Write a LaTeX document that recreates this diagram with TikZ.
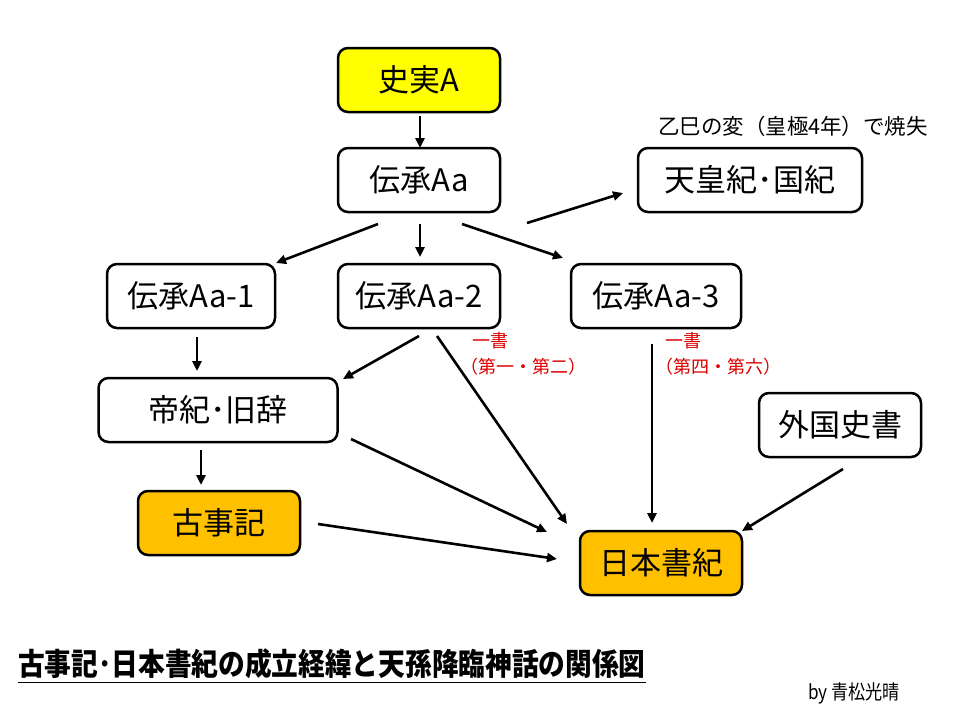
\documentclass[tikz,border=0pt]{standalone}
\usepackage{fontspec}
\setmainfont{Noto Sans CJK JP}
\usetikzlibrary{arrows.meta}
\definecolor{boxyellow}{RGB}{255,255,0}
\definecolor{boxorange}{RGB}{255,192,0}
\definecolor{notered}{RGB}{220,0,0}
\begin{document}
\begin{tikzpicture}[x=1pt,y=-1pt,
  box/.style={draw=black,line width=2.5pt,rounded corners=10pt,minimum height=64pt,inner sep=0pt,font=\fontsize{31}{34}\selectfont},
  arr/.style={line width=2.6pt,-{Triangle[length=10pt,width=9pt]}},
  note/.style={text=notered,font=\fontsize{18}{20}\selectfont,inner sep=0pt,anchor=west}]
\useasboundingbox (0,0) rectangle (960,720);
% boxes
\node[box,fill=boxyellow,minimum width=162pt] (A) at (419,80) {史実A};
\node[box,fill=white,minimum width=162pt] (Aa) at (419,180) {伝承Aa};
\node[box,fill=white,minimum width=224pt] (TK) at (750,180) {天皇紀･国紀};
\node[box,fill=white,minimum width=168pt] (Aa1) at (191,296) {伝承Aa-1};
\node[box,fill=white,minimum width=162pt] (Aa2) at (419,296) {伝承Aa-2};
\node[box,fill=white,minimum width=170pt] (Aa3) at (656,296) {伝承Aa-3};
\node[box,fill=white,minimum width=239pt] (TG) at (218,410) {帝紀･旧辞};
\node[box,fill=white,minimum width=162pt] (GK) at (840,425) {外国史書};
\node[box,fill=boxorange,minimum width=162pt] (KJ) at (219,523) {古事記};
\node[box,fill=boxorange,minimum width=162pt] (NS) at (661,563) {日本書紀};
% annotations
\node[inner sep=0pt,font=\fontsize{21.5}{24}\selectfont] (burn) at (793,126) {乙巳の変（皇極4年）で焼失};
\node[note] (n1a) at (472,341) {一書};
\node[note] (n1b) at (460,367) {（第一・第二）};
\node[note] (n2a) at (665,341) {一書};
\node[note] (n2b) at (655,367) {（第四・第六）};
\node[inner sep=0pt,anchor=west,font=\bfseries\fontsize{26.7}{30}\selectfont] (title) at (18,664) {\scalebox{1}[1.15]{古事記･日本書紀の成立経緯と天孫降臨神話の関係図}};
\draw[line width=1.5pt] ([yshift=-3pt]title.south west) -- ([yshift=-3pt]title.south east);
\node[inner sep=0pt,anchor=west,font=\fontsize{19}{22}\selectfont] (by) at (808,693) {\scalebox{0.9}[1.05]{by 青松光晴}};
% arrow end points
\coordinate (c1s) at (420,116); \coordinate (c1e) at (420,148);
\coordinate (c2s) at (378,224); \coordinate (c2e) at (276,263);
\coordinate (c3s) at (420,224); \coordinate (c3e) at (420,257);
\coordinate (c4s) at (462,224); \coordinate (c4e) at (563,258);
\coordinate (c5s) at (527,223); \coordinate (c5e) at (623,193);
\coordinate (c6s) at (197,337); \coordinate (c6e) at (197,371);
\coordinate (c7s) at (419,336); \coordinate (c7e) at (343,379);
\coordinate (c8s) at (437,336); \coordinate (c8e) at (567,524);
\coordinate (c9s) at (351,439); \coordinate (c9e) at (547,532);
\coordinate (c10s) at (318,524); \coordinate (c10e) at (557,559);
\coordinate (c11s) at (652,344); \coordinate (c11e) at (652,523);
\coordinate (c12s) at (843,469); \coordinate (c12e) at (742,531);
\coordinate (c13s) at (201,450); \coordinate (c13e) at (201,485);
\foreach \i in {1,...,13} {\draw[arr] (c\i s) -- (c\i e);}
\end{tikzpicture}
\end{document}
